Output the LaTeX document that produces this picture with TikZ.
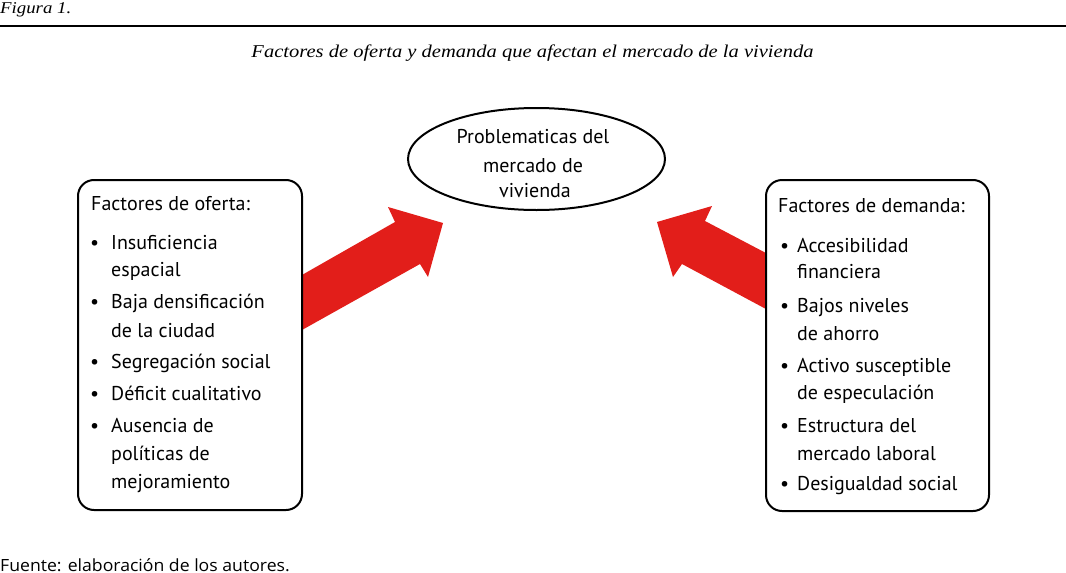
\documentclass[tikz,border=0pt]{standalone}
\usepackage{fontspec}
\setmainfont{PT Sans}
\newfontfamily\titlefont[FakeStretch=1.14]{Liberation Serif}
\newfontfamily\notefont[FakeStretch=1.05]{Open Sans}
\usetikzlibrary{shapes.geometric}
\definecolor{arrowred}{RGB}{226,30,26}
\newcommand\tline[4]{\node[boxtext] (#1) at (#2,#3) {#4};}
\newcommand\bul[3]{\node[boxtext] (#1) at (#2,#3) {\textbullet};}
\begin{document}
\begin{tikzpicture}[x=1pt,y=-1pt,
  boxtext/.style={anchor=base west, inner sep=0pt, font=\fontsize{20}{24}\selectfont},
  ctext/.style={anchor=base, inner sep=0pt, font=\fontsize{20}{24}\selectfont},
  factorbox/.style={draw, line width=2pt, rounded corners=16pt, fill=white, inner sep=0pt, anchor=north west},
  bigarrow/.style={fill=arrowred}]
\useasboundingbox (0,0) rectangle (1066,573);
% header
\node[anchor=base west, inner sep=0pt, font=\titlefont\itshape\fontsize{16.5}{19}\selectfont] (fig) at (0,13) {Figura 1.};
\coordinate (ruleL) at (0,26);
\coordinate (ruleR) at (1066,26);
\draw[line width=1.5pt] (ruleL) -- (ruleR);
\node[anchor=base, inner sep=0pt, font=\titlefont\itshape\fontsize{18}{22}\selectfont] (title) at (532.5,57) {Factores de oferta y demanda que afectan el mercado de la vivienda};
% arrows
\fill[bigarrow] (290,336.7) -- (420,264) -- (428,277) -- (443,223) -- (388,207) -- (395,222) -- (290,281.8) -- cycle;
\fill[bigarrow] (657,222) -- (712,206) -- (705,221) -- (776,258.3) -- (776,314.4) -- (682,264) -- (673,277) -- cycle;
% ellipse
\node[ellipse, draw, line width=2pt, fill=white, minimum width=257pt, minimum height=102pt, inner sep=0pt] (prob) at (536.5,159) {};
\node[ctext] (p1) at (533,143) {Problematicas del};
\node[ctext] (p2) at (533,172) {mercado de};
\node[ctext] (p3) at (535,197) {vivienda};
% left box
\node[factorbox, minimum width=224pt, minimum height=330pt] (oferta) at (77,179) {};
\tline{oh}{91}{210}{Factores de oferta:}
\bul{ob1}{90}{249}\tline{o1a}{111}{249}{Insuficiencia}
\tline{o1b}{111}{276}{espacial}
\bul{ob2}{90}{308}\tline{o2a}{111}{308}{Baja densificación}
\tline{o2b}{111}{337}{de la ciudad}
\bul{ob3}{90}{368}\tline{o3a}{111}{368}{Segregación social}
\bul{ob4}{90}{400}\tline{o4a}{111}{400}{Déficit cualitativo}
\bul{ob5}{90}{432}\tline{o5a}{111}{432}{Ausencia de}
\tline{o5b}{111}{460}{políticas de}
\tline{o5c}{111}{488}{mejoramiento}
% right box
\node[factorbox, minimum width=223pt, minimum height=331pt] (demanda) at (765,179) {};
\tline{dh}{778}{212}{Factores de demanda:}
\bul{db1}{780}{252}\tline{d1a}{797}{252}{Accesibilidad}
\tline{d1b}{797}{278}{financiera}
\bul{db2}{780}{312}\tline{d2a}{797}{312}{Bajos niveles}
\tline{d2b}{797}{340}{de ahorro}
\bul{db3}{780}{372}\tline{d3a}{797}{372}{Activo susceptible}
\tline{d3b}{797}{399}{de especulación}
\bul{db4}{780}{432}\tline{d4a}{797}{432}{Estructura del}
\tline{d4b}{797}{460}{mercado laboral}
\bul{db5}{780}{490}\tline{d5a}{797}{490}{Desigualdad social}
% source
\node[anchor=base west, inner sep=0pt, font=\notefont\fontsize{16.8}{19}\selectfont] (src) at (0,571) {Fuente: elaboración de los autores.};
\end{tikzpicture}
\end{document}
